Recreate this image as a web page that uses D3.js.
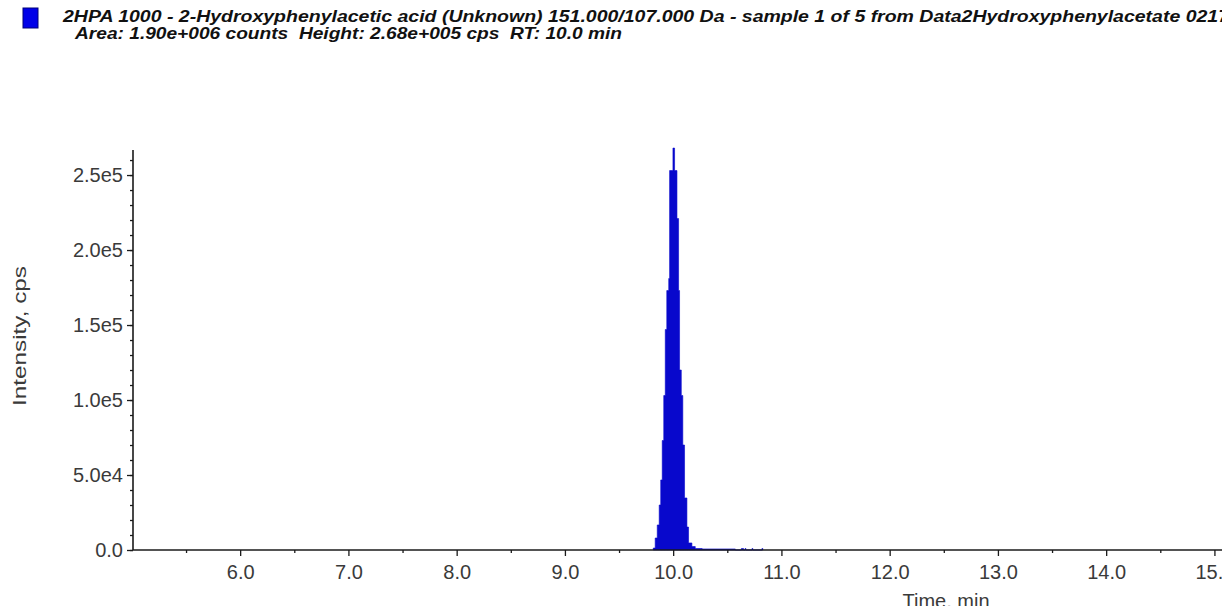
<!DOCTYPE html>
<html>
<head>
<meta charset="utf-8">
<script src="https://cdn.jsdelivr.net/npm/d3@7"></script>
<style>
  html, body { margin: 0; padding: 0; background: #fff; }
  svg { display: block; }
  .tick-label { font-family: "Liberation Sans", Arial, sans-serif; font-size: 20px; fill: #3a3a3a; }
  .title { font-family: "Liberation Sans", Arial, sans-serif; font-size: 16px; font-weight: bold; font-style: italic; fill: #111; }
</style>
</head>
<body>
<svg id="chart" width="1222" height="606"></svg>
<script>
(function () {
  "use strict";

  // chromatogram trace (step after each time)
  const TIMES = [9.816, 9.834, 9.853, 9.871, 9.885, 9.899, 9.913, 9.927, 9.941, 9.959,
    9.967, 9.998, 10.013, 10.035, 10.050, 10.059, 10.075, 10.089, 10.105, 10.127,
    10.142, 10.173, 10.204, 10.268, 10.574,
    10.630, 10.650, 10.664, 10.672, 10.728, 10.736, 10.820, 10.828];
  const INTENSITY = [1300, 8000, 16700, 30000, 46700, 73000, 103000, 147000, 173000, 181000,
    253000, 268000, 253000, 221000, 173000, 120000, 103000, 70000, 34700, 15300,
    4700, 2300, 1000, 700, 0,
    1000, 0, 1000, 0, 1000, 0, 1000, 0];

  const X_TICKS = [6, 7, 8, 9, 10, 11, 12, 13, 14, 15];
  const X_MINOR = [5.5, 6.5, 7.5, 8.5, 9.5, 10.5, 11.5, 12.5, 13.5, 14.5];
  const Y_TICKS = [0, 50000, 100000, 150000, 200000, 250000];
  const Y_TICK_LABELS = ["0.0", "5.0e4", "1.0e5", "1.5e5", "2.0e5", "2.5e5"];
  const Y_MINOR = d3.range(0, 266000, 10000);

  const TITLE_1 = "2HPA 1000 - 2-Hydroxyphenylacetic acid (Unknown) 151.000/107.000 Da - sample 1 of 5 from Data2Hydroxyphenylacetate 0217";
  const TITLE_2 = "Area: 1.90e+006 counts  Height: 2.68e+005 cps  RT: 10.0 min";

  const svg = d3.select("#chart");
  const left = 133, bottom = 550, top = 150, right = 1222;

  const x = d3.scaleLinear().domain([5.01, 15.07]).range([left, right]);
  const y = d3.scaleLinear().domain([0, 266700]).range([bottom, top]);

  const pts = TIMES.map((t, i) => [t, INTENSITY[i]]);

  // header
  svg.append("rect")
    .attr("x", 23).attr("y", 8).attr("width", 15).attr("height", 20)
    .attr("fill", "#0000e8").attr("stroke", "#00007a").attr("stroke-width", 1);

  svg.append("text").attr("class", "title")
    .attr("x", 63).attr("y", 22)
    .attr("textLength", 1166).attr("lengthAdjust", "spacingAndGlyphs")
    .text(TITLE_1);
  svg.append("text").attr("class", "title")
    .attr("x", 75).attr("y", 39)
    .attr("textLength", 547).attr("lengthAdjust", "spacingAndGlyphs")
    .style("white-space", "pre")
    .text(TITLE_2);

  // peak
  const area = d3.area()
    .curve(d3.curveStepAfter)
    .x((d) => x(d[0]))
    .y0(y(0))
    .y1((d) => y(d[1]));
  svg.append("path")
    .datum(pts)
    .attr("d", area)
    .attr("fill", "#0808cc")
    .attr("stroke", "#0808cc")
    .attr("stroke-width", 0.6);

  // axes
  const yAxis = svg.append("g").attr("transform", `translate(${left},0)`);
  yAxis.call(d3.axisLeft(y).tickValues(Y_MINOR).tickSize(3).tickFormat(""));
  yAxis.call((g) => g.select(".domain").remove());
  svg.append("g").attr("transform", `translate(${left},0)`)
    .call(d3.axisLeft(y).tickValues(Y_TICKS).tickSize(6).tickPadding(4)
      .tickFormat((d, i) => Y_TICK_LABELS[i]))
    .call((g) => g.select(".domain").attr("d", `M0,${y(0)}V${top}`));

  const xg = svg.append("g").attr("transform", `translate(0,${bottom})`);
  xg.call(d3.axisBottom(x).tickValues(X_MINOR).tickSize(3).tickFormat(""));
  xg.call((g) => g.select(".domain").remove());
  svg.append("g").attr("transform", `translate(0,${bottom})`)
    .call(d3.axisBottom(x).tickValues(X_TICKS).tickSize(6).tickPadding(9)
      .tickFormat(d3.format(".1f")))
    .call((g) => g.select(".domain").attr("d", `M${left},0H${right}`));

  svg.selectAll(".domain").attr("stroke", "#1a1a1a").attr("stroke-width", 1.6);
  svg.selectAll(".tick line").attr("stroke", "#1a1a1a").attr("stroke-width", 1.3);
  svg.selectAll(".tick text").attr("class", "tick-label").attr("font-family", null).attr("font-size", null);

  svg.append("text").attr("class", "tick-label")
    .attr("transform", "translate(26,336) rotate(-90)")
    .attr("text-anchor", "middle")
    .attr("textLength", 140).attr("lengthAdjust", "spacingAndGlyphs")
    .style("font-size", "19px")
    .text("Intensity, cps");

  svg.append("text").attr("class", "tick-label")
    .attr("x", 946).attr("y", 608)
    .attr("text-anchor", "middle")
    .text("Time, min");
})();
</script>
</body>
</html>
